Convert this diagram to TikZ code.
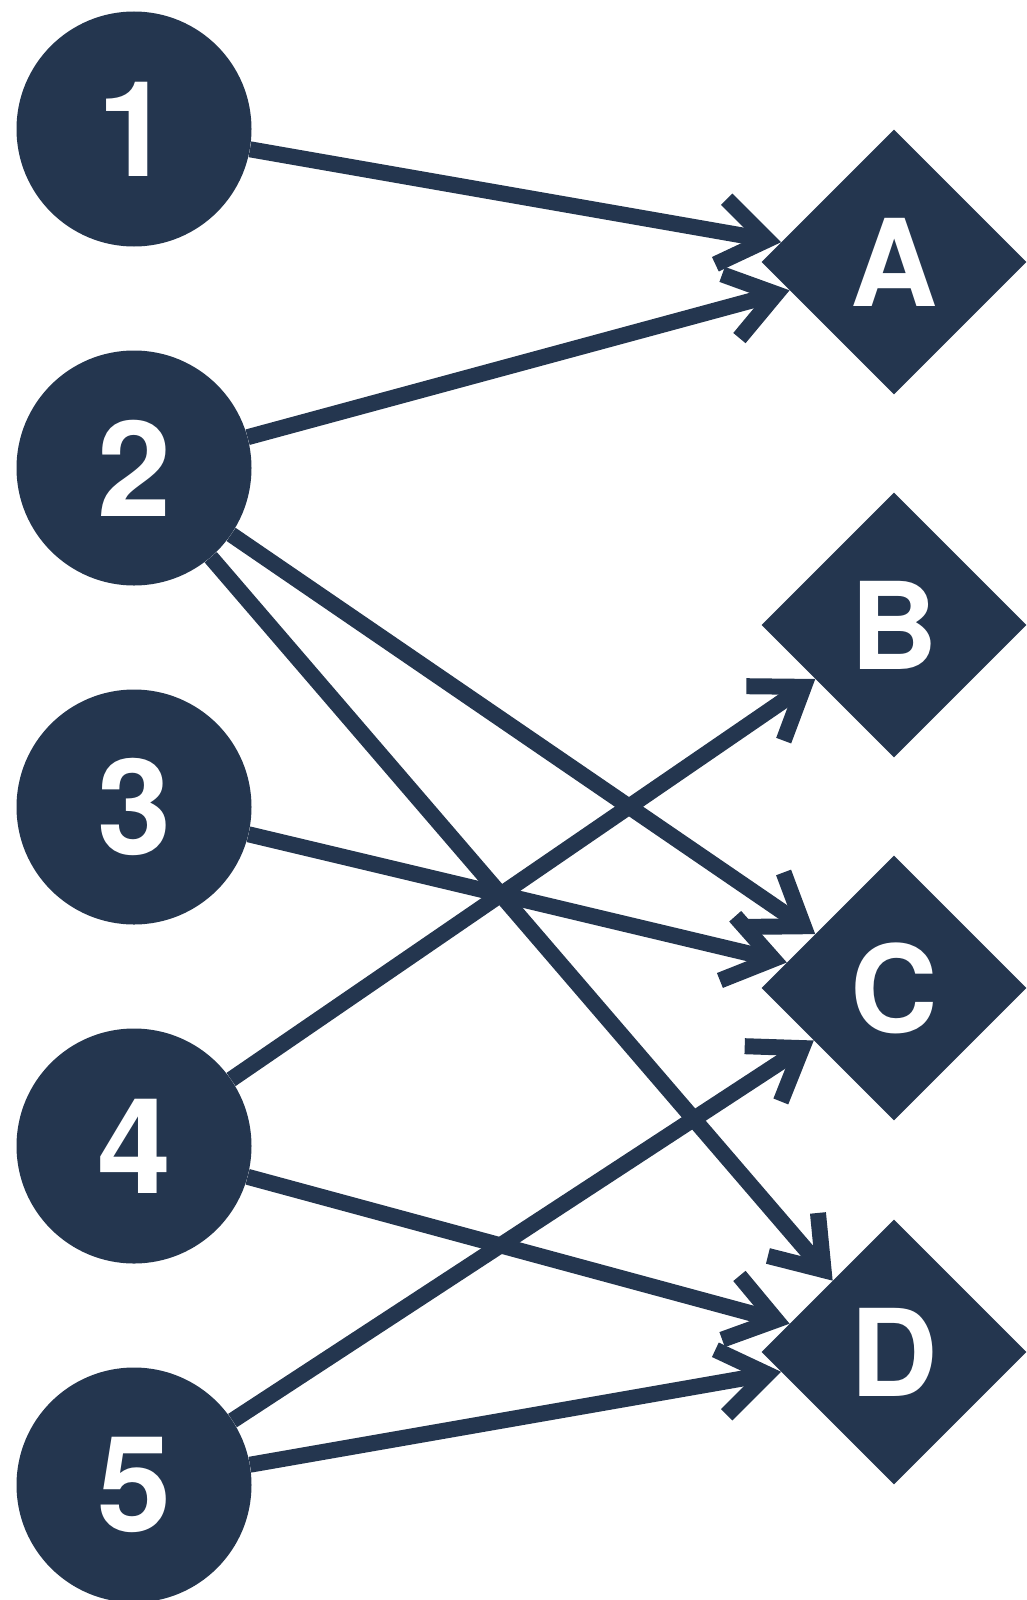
\documentclass[tikz,border=0pt]{standalone}
\usepackage{fontspec}
\setmainfont{TeX Gyre Heros}
\usetikzlibrary{shapes.geometric,arrows.meta}
\definecolor{navy}{RGB}{36,54,79}
\tikzset{
  circ/.style={circle,fill=navy,minimum size=235pt,inner sep=0pt,text=white,
    font=\fontsize{133pt}{133pt}\selectfont\bfseries},
  dia/.style={diamond,fill=navy,minimum width=265pt,minimum height=265pt,inner sep=0pt,text=white,
    font=\fontsize{121pt}{121pt}\selectfont\bfseries},
  link/.style={draw=navy,line width=16pt,-{Straight Barb[length=47pt,width=66pt]}}
}
\begin{document}
\begin{tikzpicture}[x=1pt,y=-1pt]
\useasboundingbox (0,0) rectangle (1026,1600);
\node[circ] (n1) at (134,129) {1};
\node[circ] (n2) at (134,468) {2};
\node[circ] (n3) at (134,807) {3};
\node[circ] (n4) at (134,1146) {4};
\node[circ] (n5) at (134,1485) {5};
\node[dia] (A) at (894,262) {A};
\node[dia] (B) at (894,625) {B};
\node[dia] (C) at (894,988) {C};
\node[dia] (D) at (894,1352) {D};
\draw[link] (n1) -- (A);
\draw[link] (n2) -- (A);
\draw[link] (n2) -- (C);
\draw[link] (n2) -- (D);
\draw[link] (n3) -- (C);
\draw[link] (n4) -- (B);
\draw[link] (n4) -- (D);
\draw[link] (n5) -- (C);
\draw[link] (n5) -- (D);
\end{tikzpicture}
\end{document}
